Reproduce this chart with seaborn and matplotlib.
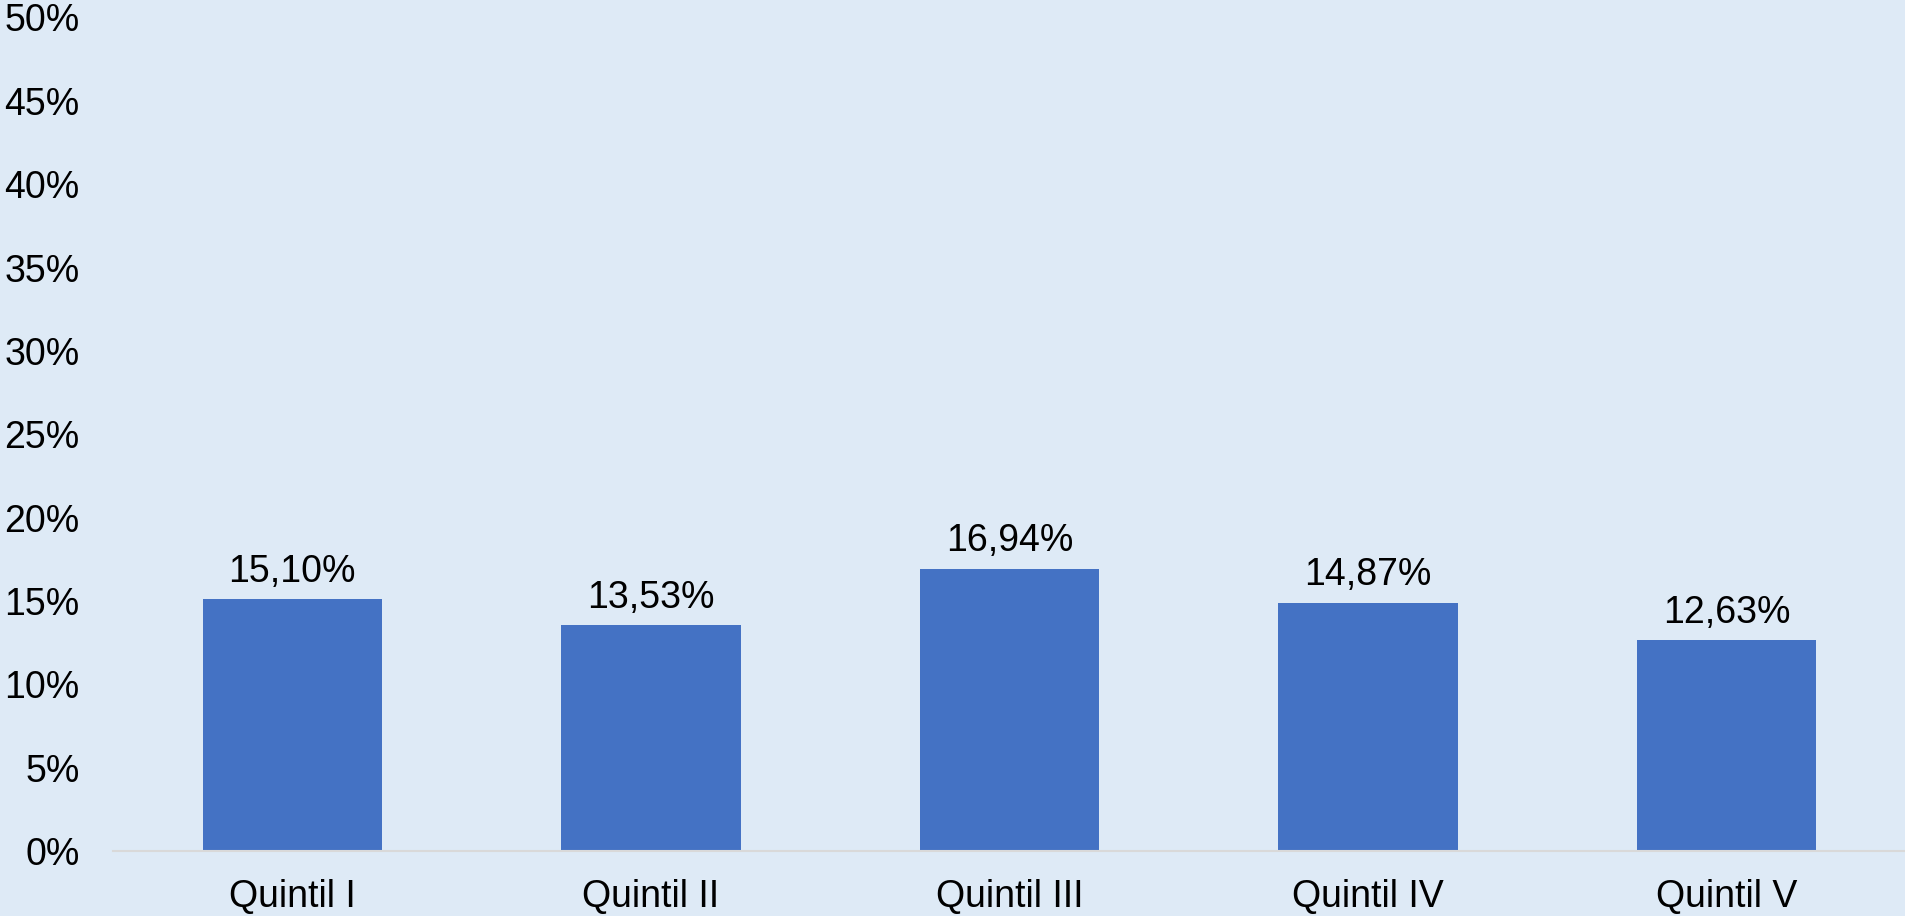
import seaborn as sns
import matplotlib.pyplot as plt
import pandas as pd
from matplotlib.ticker import FuncFormatter

# Data
categories = ['Quintil I', 'Quintil II', 'Quintil III', 'Quintil IV', 'Quintil V']
values = [15.10, 13.53, 16.94, 14.87, 12.63]  # percent

df = pd.DataFrame({'Quintil': categories, 'Valor': values})

sns.set_style("white")
plt.rcParams['font.family'] = ['Liberation Sans', 'DejaVu Sans']

bg = '#DEEAF6'
fig = plt.figure(figsize=(19.06, 9.16), dpi=100, facecolor=bg)
ax = fig.add_axes([0.0593, 0.0710, 0.9407, 0.9099])
ax.set_facecolor(bg)

sns.barplot(data=df, x='Quintil', y='Valor', color='#4472C4',
            width=0.5, saturation=1, linewidth=0, ax=ax)

ax.set_xlim(-0.5, len(categories) - 0.5)
ax.set_ylim(0, 50)
ax.set_yticks(range(0, 51, 5))
ax.yaxis.set_major_formatter(FuncFormatter(lambda v, p: f"{v:.0f}%"))

# Data labels with comma decimal separator
for i, v in enumerate(values):
    ax.annotate(f"{v:.2f}".replace('.', ',') + '%', (i, v),
                xytext=(0, 7), textcoords='offset points',
                ha='center', va='bottom', fontsize=27, color='black')

ax.set_xlabel('')
ax.set_ylabel('')
ax.tick_params(axis='y', length=0, pad=24, labelsize=27, labelcolor='black')
ax.tick_params(axis='x', length=0, pad=20, labelsize=27, labelcolor='black')

for s in ['top', 'right', 'left']:
    ax.spines[s].set_visible(False)
ax.spines['bottom'].set_color('#D9D9D9')
ax.spines['bottom'].set_linewidth(1.5)
ax.grid(False)

plt.savefig('out.png', dpi=100, facecolor=bg)
